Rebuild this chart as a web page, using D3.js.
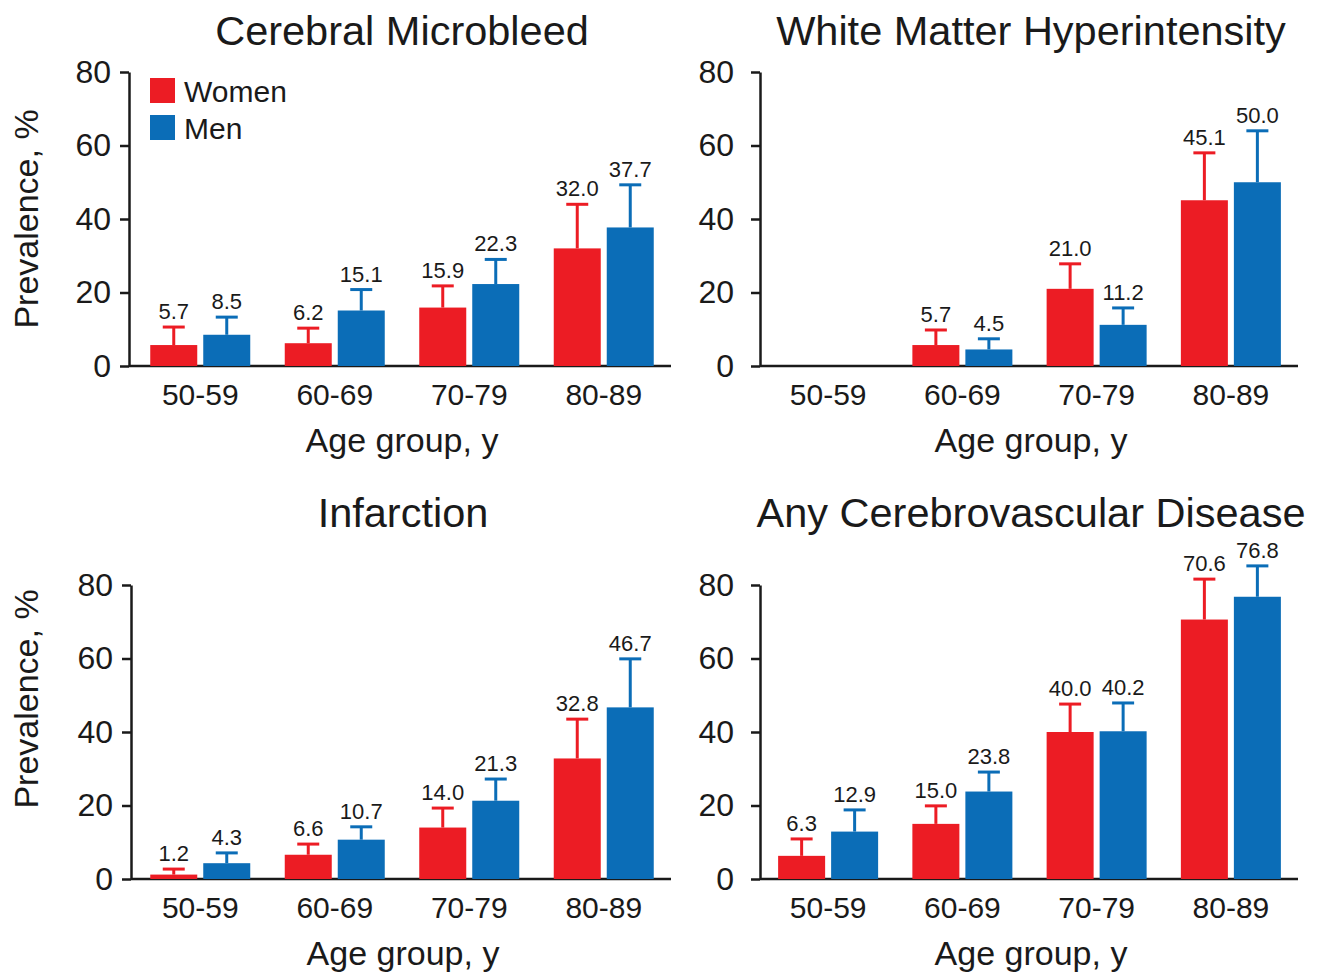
<!DOCTYPE html>
<html>
<head>
<meta charset="utf-8">
<script src="https://cdn.jsdelivr.net/npm/d3@7"></script>
<style>
  body { margin: 0; background: #fff; }
  svg text { font-family: "Liberation Sans", Arial, sans-serif; fill: #1a1a1a; }
  .axis path, .axis line { stroke: #1a1a1a; stroke-width: 2.5; }
</style>
</head>
<body>
<svg id="chart" width="1326" height="979"></svg>
<script>
var age_groups = ['50-59', '60-69', '70-79', '80-89'];
var series     = ['Women', 'Men'];
var colors     = ['#ec1c24', '#0b6db7'];
var y_ticks    = [0, 20, 40, 60, 80];

// prevalence, % (null = not shown)
var cmb_women = [5.7, 6.2, 15.9, 32.0];
var cmb_men   = [8.5, 15.1, 22.3, 37.7];
var wmh_women = [null, 5.7, 21.0, 45.1];
var wmh_men   = [null, 4.5, 11.2, 50.0];
var inf_women = [1.2, 6.6, 14.0, 32.8];
var inf_men   = [4.3, 10.7, 21.3, 46.7];
var any_women = [6.3, 15.0, 40.0, 70.6];
var any_men   = [12.9, 23.8, 40.2, 76.8];

// upper end of the error bars
var cmb_women_hi = [10.6, 10.3, 21.8, 44.0];
var cmb_men_hi   = [13.3, 20.8, 29.0, 49.3];
var wmh_women_hi = [null, 9.8, 27.8, 58.0];
var wmh_men_hi   = [null, 7.4, 15.8, 64.0];
var inf_women_hi = [2.7, 9.5, 19.3, 43.5];
var inf_men_hi   = [7.1, 14.2, 27.2, 59.9];
var any_women_hi = [10.9, 19.9, 47.6, 81.6];
var any_men_hi   = [18.8, 29.1, 47.9, 85.2];

var svg = d3.select('#chart');

function panel_draw(o) {
  var x = d3.scaleBand()
    .domain(age_groups)
    .range([o.band_left, o.right]);

  var y = d3.scaleLinear()
    .domain([0, 80])
    .range([o.bottom, o.top]);

  var gph = svg.append('g').attr('class', 'panel');

  // x axis: labels only, line drawn from the y axis to the end
  var xa = gph.append('g')
    .attr('class', 'axis x-axis')
    .attr('transform', `translate(0,${y(0)})`)
    .call(d3.axisBottom(x).tickSize(0).tickPadding(18));
  xa.select('.domain').remove();
  xa.selectAll('text').style('font-size', '30px');

  gph.append('line')
    .attr('x1', o.left).attr('x2', o.right)
    .attr('y1', y(0)).attr('y2', y(0))
    .style('stroke', '#1a1a1a')
    .style('stroke-width', 2.5);

  var ya = gph.append('g')
    .attr('class', 'axis y-axis')
    .attr('transform', `translate(${o.left},0)`)
    .call(d3.axisLeft(y).tickValues(y_ticks).tickSize(9).tickSizeOuter(0).tickPadding(o.pad));
  ya.selectAll('text').style('font-size', '32px');

  var half = 50, gap = 3;
  var bw = half - gap;

  var rows = [];
  age_groups.forEach((g, i) => {
    o.values.forEach((vals, s) => {
      if (vals[i] == null) return;
      var cx = x(g) + x.bandwidth() / 2;
      var bx = s === 0 ? cx - half : cx + gap;
      rows.push({ g: g, s: s, v: vals[i], hi: o.hi[s][i], x: bx, c: bx + bw / 2 });
    });
  });

  gph.selectAll('rect.bar')
    .data(rows).enter()
    .append('rect')
    .attr('class', 'bar')
    .attr('x', (d) => d.x)
    .attr('y', (d) => y(d.v))
    .attr('width', bw)
    .attr('height', (d) => y(0) - y(d.v))
    .style('fill', (d) => colors[d.s]);

  gph.selectAll('line.err')
    .data(rows).enter()
    .append('line')
    .attr('class', 'err')
    .attr('x1', (d) => d.c).attr('x2', (d) => d.c)
    .attr('y1', (d) => y(d.v)).attr('y2', (d) => y(d.hi))
    .style('stroke', (d) => colors[d.s])
    .style('stroke-width', 3);

  gph.selectAll('line.cap')
    .data(rows).enter()
    .append('line')
    .attr('class', 'cap')
    .attr('x1', (d) => d.c - 11).attr('x2', (d) => d.c + 11)
    .attr('y1', (d) => y(d.hi)).attr('y2', (d) => y(d.hi))
    .style('stroke', (d) => colors[d.s])
    .style('stroke-width', 3);

  gph.selectAll('text.val')
    .data(rows).enter()
    .append('text')
    .attr('class', 'val')
    .attr('x', (d) => d.c)
    .attr('y', (d) => y(d.hi) - 8)
    .attr('text-anchor', 'middle')
    .style('font-size', '22px')
    .text((d) => d.v.toFixed(1));

  var mid = (o.left + o.right) / 2 + 2;

  gph.append('text')
    .attr('x', mid)
    .attr('y', o.title_y)
    .attr('text-anchor', 'middle')
    .style('font-size', '41.5px')
    .text(o.title);

  gph.append('text')
    .attr('x', mid)
    .attr('y', y(0) + 86)
    .attr('text-anchor', 'middle')
    .style('font-size', '34px')
    .text('Age group, y');

  if (o.ylabel_y) {
    gph.append('text')
      .attr('transform', `translate(38,${o.ylabel_y}) rotate(-90)`)
      .attr('text-anchor', 'middle')
      .style('font-size', '34px')
      .text('Prevalence, %');
  }

  if (o.legend) {
    var lg = gph.selectAll('g.legend')
      .data(series).enter()
      .append('g')
      .attr('class', 'legend')
      .attr('transform', (d, i) => `translate(${o.left + 21},${y(80) + 6 + i * 37})`);

    lg.append('rect')
      .attr('width', 25).attr('height', 25)
      .style('fill', (d, i) => colors[i]);

    lg.append('text')
      .attr('x', 34).attr('y', 24)
      .style('font-size', '30px')
      .text((d) => d);
  }
}

panel_draw({
  title: 'Cerebral Microbleed', left: 129, band_left: 133, right: 671, top: 72, bottom: 366,
  title_y: 45, ylabel_y: 219, pad: 9, legend: true,
  values: [cmb_women, cmb_men], hi: [cmb_women_hi, cmb_men_hi]
});
panel_draw({
  title: 'White Matter Hyperintensity', left: 760, band_left: 761, right: 1298, top: 72, bottom: 366,
  title_y: 45, pad: 17,
  values: [wmh_women, wmh_men], hi: [wmh_women_hi, wmh_men_hi]
});
panel_draw({
  title: 'Infarction', left: 131, band_left: 133, right: 671, top: 585, bottom: 879,
  title_y: 527, ylabel_y: 699, pad: 9,
  values: [inf_women, inf_men], hi: [inf_women_hi, inf_men_hi]
});
panel_draw({
  title: 'Any Cerebrovascular Disease', left: 760, band_left: 761, right: 1298, top: 585, bottom: 879,
  title_y: 527, pad: 17,
  values: [any_women, any_men], hi: [any_women_hi, any_men_hi]
});
</script>
</body>
</html>
